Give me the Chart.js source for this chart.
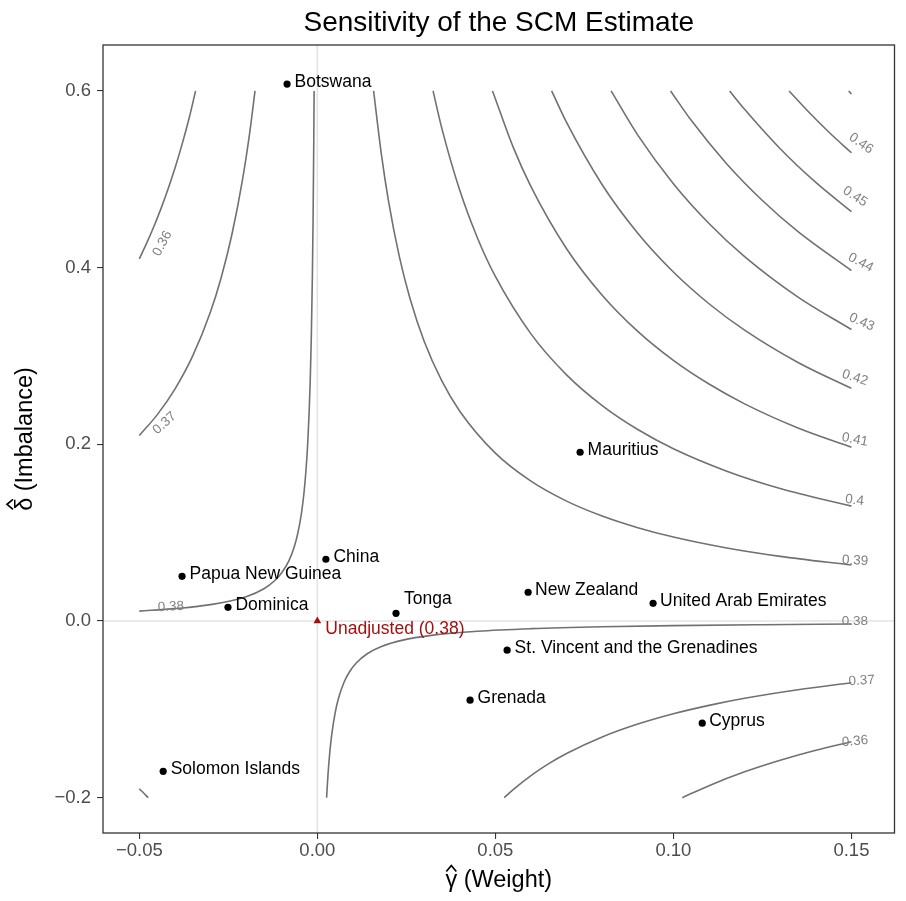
<!DOCTYPE html>
<html>
<head>
<meta charset="utf-8">
<title>Sensitivity of the SCM Estimate</title>
<script src="https://cdn.jsdelivr.net/npm/chart.js@4.4.1/dist/chart.umd.min.js"></script>
<style>
  html, body { margin: 0; padding: 0; background: #ffffff; }
  #wrap { width: 906px; height: 901px; }
</style>
</head>
<body>
<div id="wrap"><canvas id="sensChart" width="906" height="901"></canvas></div>
<script>
// donor units: weight (gamma hat) and imbalance (delta hat)
var countries = ['Botswana', 'Mauritius', 'China', 'Papua New Guinea', 'Dominica', 'Tonga',
  'New Zealand', 'United Arab Emirates', 'St. Vincent and the Grenadines', 'Grenada',
  'Cyprus', 'Solomon Islands'];
var gammaHat = [-0.0085, 0.0738, 0.0024, -0.0380, -0.0251, 0.0221, 0.0592, 0.0943, 0.0533, 0.0429, 0.1081, -0.0433];
var deltaHat = [0.6078, 0.1910, 0.0699, 0.0506, 0.0155, 0.0087, 0.0325, 0.0200, -0.0331, -0.0897, -0.1157, -0.1702];

var unadjGamma = [0];
var unadjDelta = [0];
var unadjLabel = 'Unadjusted (0.38)';

// contour lines of the adjusted estimate as [gamma, delta]
var c036_upper = [[-0.05, 0.41], [-0.048, 0.4271], [-0.046, 0.4457], [-0.044, 0.4659], [-0.042, 0.4881],
  [-0.04, 0.5125], [-0.038, 0.5395], [-0.036, 0.5694], [-0.0342, 0.6]];
var c037_upper = [[-0.05, 0.21], [-0.045, 0.2333], [-0.04, 0.2625], [-0.035, 0.3], [-0.03, 0.35],
  [-0.027, 0.3889], [-0.024, 0.4375], [-0.021, 0.5], [-0.019, 0.5526], [-0.0175, 0.6]];
var c038_upper = [[-0.05, 0.0112], [-0.04, 0.014], [-0.03, 0.0185], [-0.02, 0.0275], [-0.015, 0.0365],
  [-0.012, 0.0455], [-0.01, 0.0545], [-0.008, 0.068], [-0.0065, 0.0838], [-0.0055, 0.099],
  [-0.0045, 0.121], [-0.0038, 0.1432], [-0.0032, 0.17], [-0.0027, 0.2015], [-0.0023, 0.2365],
  [-0.002, 0.272], [-0.0017, 0.32], [-0.0014, 0.3886], [-0.0012, 0.4533], [-0.001, 0.544], [-0.0009, 0.6]];
var c038_lower = [[0.0026, -0.2], [0.003, -0.1733], [0.0035, -0.1486], [0.004, -0.13], [0.005, -0.104],
  [0.006, -0.0867], [0.0075, -0.0693], [0.009, -0.0578], [0.011, -0.0473], [0.014, -0.0371],
  [0.018, -0.0289], [0.024, -0.0217], [0.032, -0.0163], [0.045, -0.0116], [0.06, -0.0087],
  [0.08, -0.0065], [0.1, -0.0052], [0.125, -0.0042], [0.15, -0.0035]];
var c037_lower = [[0.0525, -0.2], [0.055, -0.1909], [0.06, -0.175], [0.065, -0.1615], [0.07, -0.15],
  [0.08, -0.1313], [0.09, -0.1167], [0.1, -0.105], [0.11, -0.0955], [0.12, -0.0875],
  [0.135, -0.0778], [0.15, -0.07]];
var c036_lower = [[0.1025, -0.2], [0.11, -0.1864], [0.12, -0.1708], [0.13, -0.1577], [0.14, -0.1464], [0.15, -0.1367]];
var c039_lower = [[-0.05, -0.19], [-0.0488, -0.1947], [-0.0475, -0.2]];
var c039_upper = [[0.0158, 0.6], [0.018, 0.5278], [0.02, 0.475], [0.023, 0.413], [0.026, 0.3654],
  [0.03, 0.3167], [0.035, 0.2714], [0.04, 0.2375], [0.05, 0.19], [0.06, 0.1583], [0.07, 0.1357],
  [0.08, 0.1188], [0.09, 0.1056], [0.1, 0.095], [0.115, 0.0826], [0.13, 0.0731], [0.15, 0.0633]];
var c040 = [[0.0325, 0.6], [0.035, 0.5571], [0.04, 0.4875], [0.045, 0.4333], [0.05, 0.39], [0.06, 0.325],
  [0.07, 0.2786], [0.08, 0.2438], [0.09, 0.2167], [0.1, 0.195], [0.115, 0.1696], [0.13, 0.15], [0.15, 0.13]];
var c041 = [[0.0492, 0.6], [0.055, 0.5364], [0.06, 0.4917], [0.07, 0.4214], [0.08, 0.3688], [0.09, 0.3278],
  [0.1, 0.295], [0.11, 0.2682], [0.12, 0.2458], [0.135, 0.2185], [0.15, 0.1967]];
var c042 = [[0.0658, 0.6], [0.07, 0.5643], [0.08, 0.4938], [0.09, 0.4389], [0.1, 0.395], [0.11, 0.3591],
  [0.12, 0.3292], [0.135, 0.2926], [0.15, 0.2633]];
var c043 = [[0.0825, 0.6], [0.09, 0.55], [0.1, 0.495], [0.11, 0.45], [0.12, 0.4125], [0.135, 0.3667], [0.15, 0.33]];
var c044 = [[0.0992, 0.6], [0.105, 0.5667], [0.115, 0.5174], [0.125, 0.476], [0.135, 0.4407], [0.15, 0.3967]];
var c045 = [[0.1158, 0.6], [0.12, 0.5792], [0.13, 0.5346], [0.14, 0.4964], [0.15, 0.4633]];
var c046 = [[0.1325, 0.6], [0.138, 0.5761], [0.144, 0.5521], [0.15, 0.53]];
var c047 = [[0.1492, 0.6], [0.15, 0.5967]];

var contourPaths = [c036_upper, c037_upper, c038_upper, c038_lower, c037_lower, c036_lower, c039_lower,
  c039_upper, c040, c041, c042, c043, c044, c045, c046, c047];

// contour level labels: text, anchor [gamma, delta], angle (deg)
var contourLabels = [
  ['0.46', 0.1527, 0.5404, 35], ['0.45', 0.1510, 0.4804, 33], ['0.44', 0.1526, 0.4057, 28],
  ['0.43', 0.1529, 0.3383, 24], ['0.42', 0.1510, 0.2754, 18], ['0.41', 0.1510, 0.2052, 11],
  ['0.4', 0.1509, 0.1367, 7], ['0.39', 0.1510, 0.0682, 3], ['0.38', 0.1510, -0.0003, 0],
  ['0.37', 0.1529, -0.0677, -3], ['0.36', 0.1510, -0.1362, -5],
  ['0.36', -0.0435, 0.4272, -62], ['0.37', -0.0429, 0.2239, -42], ['0.38', -0.0411, 0.0161, -3]
];

var xTicks = [-0.05, 0, 0.05, 0.1, 0.15];
var xTickLabels = ['\u22120.05', '0.00', '0.05', '0.10', '0.15'];
var yTicks = [-0.2, 0, 0.2, 0.4, 0.6];
var yTickLabels = ['\u22120.2', '0.0', '0.2', '0.4', '0.6'];

// label nudges (px) for the repelled text
var labelNudge = [[7.5, 3], [7.5, 3], [7.5, 3], [7.5, 3], [7.5, 2.5], [8, -9], [7, 3], [7, 3], [7.5, 3], [7.5, 3], [7, 3], [7.5, 2.5]];

var FONT = "'Liberation Sans', Arial, Helvetica, sans-serif";

var datasets = [];
datasets.push({
  label: 'donors',
  data: gammaHat.map(function(g, i) { return {x: g, y: deltaHat[i]}; }),
  pointRadius: 3.6, pointBackgroundColor: '#000000', pointBorderWidth: 0,
  showLine: false, order: 0
});
datasets.push({
  label: 'unadjusted',
  data: unadjGamma.map(function(g, i) { return {x: g, y: unadjDelta[i]}; }),
  pointStyle: 'triangle', pointRadius: 4.5, pointBackgroundColor: '#a50f0f',
  pointBorderColor: '#a50f0f', pointBorderWidth: 0, showLine: false, order: 0
});
contourPaths.forEach(function(path) {
  datasets.push({
    data: path.map(function(p) { return {x: p[0], y: p[1]}; }),
    showLine: true, pointRadius: 0, borderColor: '#717171', borderWidth: 1.6,
    cubicInterpolationMode: 'monotone', fill: false, order: 2
  });
});

// text with a hat over the leading greek letter (plotmath style)
function hatText(ctx, greek, rest, cx, base, hatLift) {
  var wg = ctx.measureText(greek).width;
  var wr = ctx.measureText(rest).width;
  var x = cx - (wg + wr) / 2;
  ctx.textAlign = 'left';
  ctx.fillText(greek, x, base);
  ctx.fillText(rest, x + wg, base);
  var hx = x + wg / 2;
  ctx.beginPath();
  ctx.moveTo(hx - 5, base - hatLift + 6);
  ctx.lineTo(hx, base - hatLift);
  ctx.lineTo(hx + 5, base - hatLift + 6);
  ctx.lineWidth = 1.7;
  ctx.strokeStyle = ctx.fillStyle;
  ctx.stroke();
}

var sensPlugin = {
  id: 'sensPlugin',
  beforeDatasetsDraw: function(chart) {
    var ctx = chart.ctx, a = chart.chartArea;
    var xs = chart.scales.x, ys = chart.scales.y;
    ctx.save();
    ctx.strokeStyle = '#e3e3e3';
    ctx.lineWidth = 1.5;
    var x0 = xs.getPixelForValue(0), y0 = ys.getPixelForValue(0);
    ctx.beginPath();
    ctx.moveTo(x0, a.top); ctx.lineTo(x0, a.bottom);
    ctx.moveTo(a.left, y0); ctx.lineTo(a.right, y0);
    ctx.stroke();
    ctx.restore();
  },
  afterDatasetsDraw: function(chart) {
    var ctx = chart.ctx, a = chart.chartArea;
    var xs = chart.scales.x, ys = chart.scales.y;
    ctx.save();
    // contour labels
    ctx.font = '13.5px ' + FONT;
    ctx.fillStyle = '#808080';
    ctx.textAlign = 'center';
    ctx.textBaseline = 'middle';
    contourLabels.forEach(function(l) {
      ctx.save();
      ctx.translate(xs.getPixelForValue(l[1]), ys.getPixelForValue(l[2]));
      ctx.rotate(l[3] * Math.PI / 180);
      ctx.fillText(l[0], 0, 0);
      ctx.restore();
    });
    // country labels
    ctx.font = '17.5px ' + FONT;
    ctx.fillStyle = '#000000';
    ctx.textAlign = 'left';
    ctx.textBaseline = 'alphabetic';
    countries.forEach(function(name, i) {
      var px = xs.getPixelForValue(gammaHat[i]), py = ys.getPixelForValue(deltaHat[i]);
      ctx.fillText(name, px + labelNudge[i][0], py + labelNudge[i][1]);
    });
    ctx.fillStyle = '#a50f0f';
    ctx.fillText(unadjLabel, xs.getPixelForValue(unadjGamma[0]) + 8, ys.getPixelForValue(unadjDelta[0]) + 13);
    // panel border
    ctx.strokeStyle = '#333333';
    ctx.lineWidth = 1.3;
    ctx.strokeRect(a.left, a.top, a.right - a.left, a.bottom - a.top);
    ctx.restore();
  },
  afterDraw: function(chart) {
    var ctx = chart.ctx, a = chart.chartArea;
    var cx = (a.left + a.right) / 2, cy = (a.top + a.bottom) / 2;
    ctx.save();
    ctx.fillStyle = '#000000';
    ctx.textAlign = 'center';
    ctx.textBaseline = 'alphabetic';
    ctx.font = '28px ' + FONT;
    ctx.fillText('Sensitivity of the SCM Estimate', cx, 30.5);
    ctx.font = '23.5px ' + FONT;
    hatText(ctx, '\u03b3', ' (Weight)', cx, 887, 21.5);
    ctx.translate(32, cy);
    ctx.rotate(-Math.PI / 2);
    hatText(ctx, '\u03b4', ' (Imbalance)', 0, 0, 25);
    ctx.restore();
  }
};

var tickFont = { family: FONT, size: 18.5 };

var chart = new Chart(document.getElementById('sensChart'), {
  type: 'scatter',
  data: { datasets: datasets },
  options: {
    responsive: false,
    maintainAspectRatio: false,
    devicePixelRatio: 1,
    animation: false,
    events: [],
    layout: { padding: { top: 45, right: 11.5, left: 0, bottom: 0 } },
    plugins: { legend: { display: false }, tooltip: { enabled: false }, title: { display: false } },
    scales: {
      x: {
        type: 'linear', min: -0.0602, max: 0.1621,
        afterFit: function(s) { s.height = 68; },
        afterBuildTicks: function(s) { s.ticks = xTicks.map(function(v) { return {value: v}; }); },
        ticks: {
          autoSkip: false, maxRotation: 0, padding: 1, color: '#4d4d4d', font: tickFont,
          callback: function(v, i) { return xTickLabels[i]; }
        },
        grid: { drawOnChartArea: false, drawTicks: true, tickLength: 6, color: '#333333', lineWidth: 1.1 },
        border: { display: false }
      },
      y: {
        type: 'linear', min: -0.240, max: 0.652,
        afterFit: function(s) { s.width = 103; },
        afterBuildTicks: function(s) { s.ticks = yTicks.map(function(v) { return {value: v}; }); },
        ticks: {
          autoSkip: false, padding: 6, color: '#4d4d4d', font: tickFont,
          callback: function(v, i) { return yTickLabels[i]; }
        },
        grid: { drawOnChartArea: false, drawTicks: true, tickLength: 6, color: '#333333', lineWidth: 1.1 },
        border: { display: false }
      }
    }
  },
  plugins: [sensPlugin]
});
</script>
</body>
</html>
